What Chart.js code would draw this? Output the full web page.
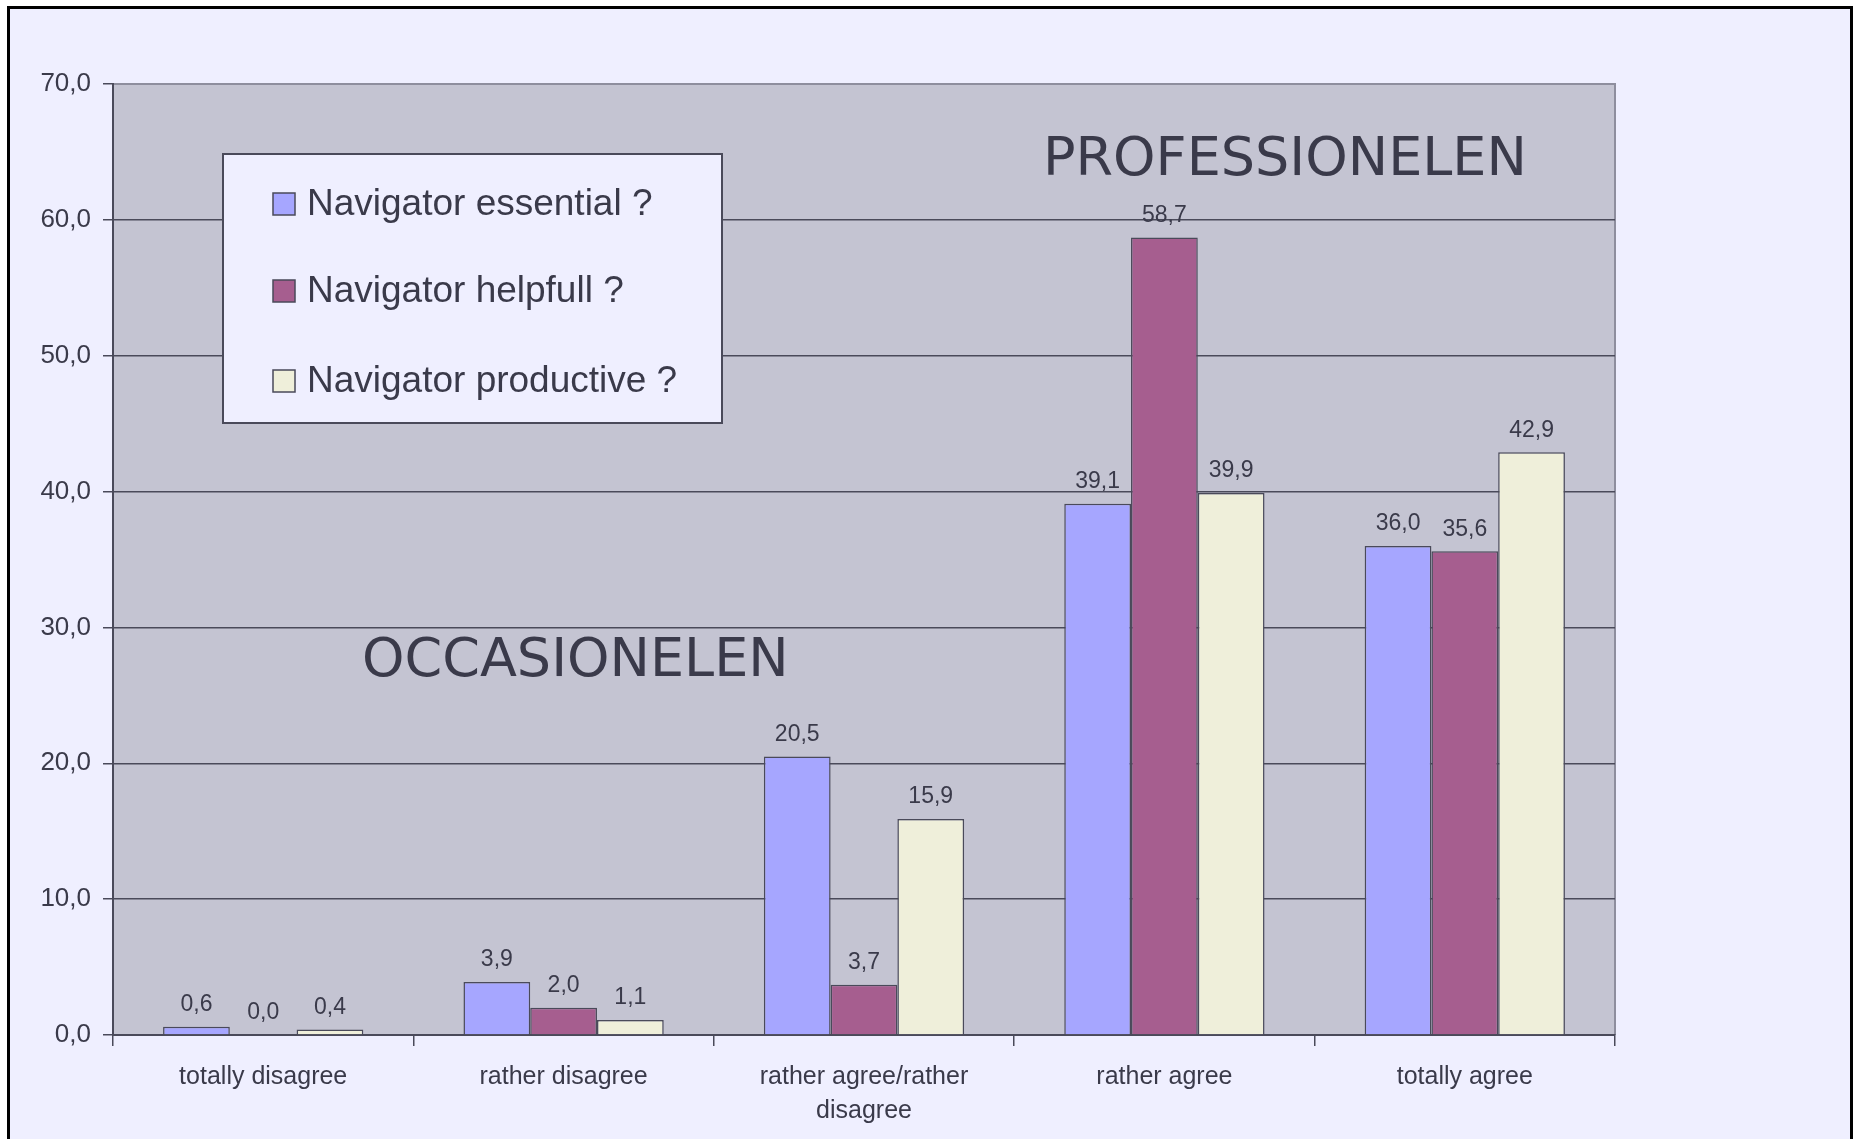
<!DOCTYPE html>
<html>
<head>
<meta charset="utf-8">
<script src="https://cdn.jsdelivr.net/npm/chart.js@4.4.1/dist/chart.umd.min.js"></script>
<style>
  html, body { margin: 0; padding: 0; background: #fff; width: 1859px; height: 1139px; overflow: hidden; }
  #frame { position: absolute; left: 7px; top: 6px; width: 1840px; height: 1300px; border: 3px solid #000; background: #EFEFFF; }
  #wrap { position: absolute; left: 0; top: 0; width: 1859px; height: 1139px; }
</style>
</head>
<body>
<div id="frame"></div>
<div id="wrap"><canvas id="surveyChart"></canvas></div>
<script>
// answers on the x axis
const categories = ["totally disagree", "rather disagree", ["rather agree/rather", "disagree"], "rather agree", "totally agree"];

// percentages per question
const essential = [0.6, 3.9, 20.5, 39.1, 36.0];
const helpfull = [0.0, 2.0, 3.7, 58.7, 35.6];
const productive = [0.4, 1.1, 15.9, 39.9, 42.9];

const seriesNames = ["Navigator essential ?", "Navigator helpfull ?", "Navigator productive ?"];
const seriesColors = ["#A6A6FF", "#A65E8F", "#EFEFDA"];

const yMin = 0, yMax = 70, yStep = 10;
const groupNotes = ["PROFESSIONELEN", "OCCASIONELEN"];

const ink = "#3A3A4A";
const gridInk = "#4A4A5A";
const fmt = v => v.toFixed(1).replace(".", ",");

// grey plot area with light top/right edge
const plotBackground = {
  id: "plotBackground",
  beforeDraw(chart) {
    const { ctx, chartArea: a } = chart;
    ctx.save();
    ctx.fillStyle = "#C4C4D2";
    ctx.fillRect(a.left, a.top, a.right - a.left, a.bottom - a.top);
    ctx.strokeStyle = "#8E8E9E";
    ctx.lineWidth = 2;
    ctx.beginPath();
    ctx.moveTo(a.left, a.top);
    ctx.lineTo(a.right, a.top);
    ctx.lineTo(a.right, a.bottom);
    ctx.stroke();
    ctx.restore();
  }
};

// numbers above each bar
const valueLabels = {
  id: "valueLabels",
  afterDatasetsDraw(chart) {
    const { ctx } = chart;
    ctx.save();
    ctx.font = '23px "Liberation Sans", Arial, sans-serif';
    ctx.fillStyle = ink;
    ctx.textAlign = "center";
    ctx.textBaseline = "middle";
    chart.data.datasets.forEach((ds, i) => {
      chart.getDatasetMeta(i).data.forEach((bar, j) => {
        ctx.fillText(fmt(ds.data[j]), bar.x, bar.y - 22);
      });
    });
    ctx.restore();
  }
};

// boxed legend inside the plot + the two group notes
const boxLegend = {
  id: "boxLegend",
  afterDraw(chart) {
    const { ctx } = chart;
    ctx.save();
    ctx.fillStyle = "#EFEFFF";
    ctx.fillRect(223, 154, 499, 269);
    ctx.strokeStyle = gridInk;
    ctx.lineWidth = 2;
    ctx.strokeRect(223, 154, 499, 269);

    ctx.font = '37px "Liberation Sans", Arial, sans-serif';
    ctx.textBaseline = "middle";
    const rows = [204, 291, 381];
    chart.data.datasets.forEach((ds, i) => {
      ctx.fillStyle = ds.backgroundColor;
      ctx.fillRect(273, rows[i] - 11, 22, 22);
      ctx.strokeStyle = gridInk;
      ctx.lineWidth = 1.5;
      ctx.strokeRect(273, rows[i] - 11, 22, 22);
      ctx.fillStyle = ink;
      ctx.fillText(ds.label, 307, rows[i] + 1);
    });

    ctx.font = '54px "DejaVu Sans", Verdana, sans-serif';
    ctx.textBaseline = "alphabetic";
    ctx.fillStyle = ink;
    ctx.fillText(groupNotes[0], 1043, 175);
    ctx.fillText(groupNotes[1], 362, 676);
    ctx.restore();
  }
};

const ctx = document.getElementById("surveyChart").getContext("2d");

new Chart(ctx, {
  type: "bar",
  data: {
    labels: categories,
    datasets: [essential, helpfull, productive].map((data, i) => ({
      label: seriesNames[i],
      data,
      backgroundColor: seriesColors[i],
      borderColor: gridInk,
      borderWidth: 1.5,
      categoryPercentage: 3 / 4.5,
      barPercentage: 1
    }))
  },
  options: {
    responsive: true,
    maintainAspectRatio: false,
    animation: false,
    layout: { padding: { top: 84, right: 244, bottom: 0, left: 0 } },
    plugins: {
      legend: { display: false },
      tooltip: { enabled: false }
    },
    scales: {
      x: {
        afterFit: s => { s.height = 104; },
        grid: { drawOnChartArea: false, drawTicks: true, tickLength: 11, color: gridInk, lineWidth: 1.5 },
        border: { color: gridInk, width: 2 },
        ticks: {
          color: ink,
          padding: 14,
          maxRotation: 0,
          autoSkip: false,
          font: { family: '"Liberation Sans", Arial, sans-serif', size: 25, lineHeight: 1.36 }
        }
      },
      y: {
        min: yMin,
        max: yMax,
        afterFit: s => { s.width = 113; },
        grid: {
          color: c => (c.tick && c.tick.value === yMax ? "#8E8E9E" : gridInk),
          tickColor: gridInk,
          lineWidth: 1.5,
          tickLength: 10
        },
        border: { color: gridInk, width: 2 },
        ticks: {
          stepSize: yStep,
          color: ink,
          padding: 12,
          callback: v => fmt(v),
          font: { family: '"Liberation Sans", Arial, sans-serif', size: 26 }
        }
      }
    }
  },
  plugins: [plotBackground, valueLabels, boxLegend]
});
</script>
</body>
</html>
